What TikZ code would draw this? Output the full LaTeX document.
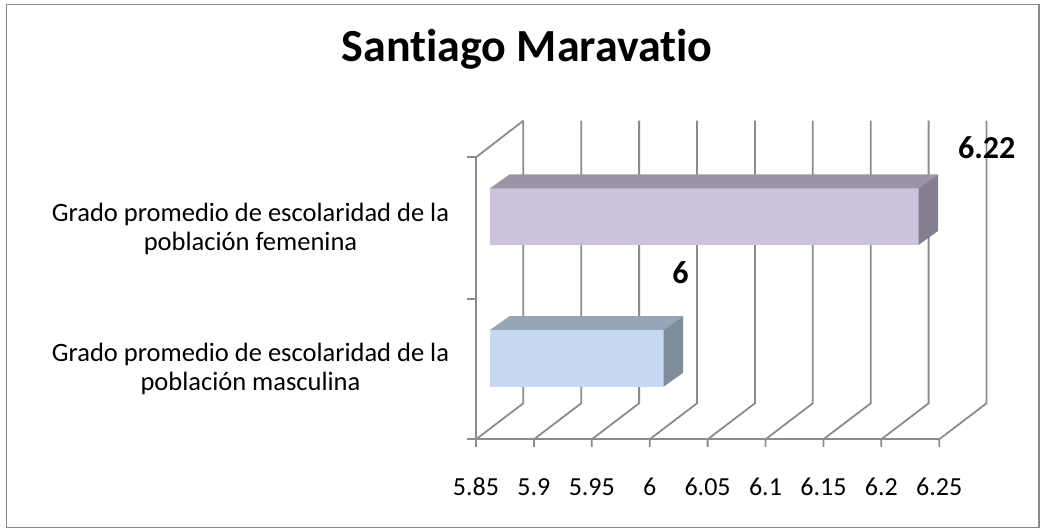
\documentclass[tikz,border=0pt]{standalone}
\usepackage{fontspec}
\setmainfont{Carlito}[Ligatures=NoCommon]
\begin{document}
\begin{tikzpicture}[x=1pt,y=-1pt,
  grid/.style={draw=gridgray,line width=1.8pt},
  ticklab/.style={anchor=base,font=\fontsize{26}{31}\selectfont},
  catlab/.style={anchor=base,font=\fontsize{26.5}{31}\selectfont},
  vallab/.style={anchor=base,font=\fontsize{32}{38}\selectfont\bfseries},
  ]
\definecolor{gridgray}{HTML}{8C8C8C}
\definecolor{framegray}{HTML}{888888}
\definecolor{femfront}{HTML}{CBC2DB}
\definecolor{femtop}{HTML}{9D93A7}
\definecolor{femside}{HTML}{857D90}
\definecolor{masfront}{HTML}{C6D9F1}
\definecolor{mastop}{HTML}{95A6B8}
\definecolor{masside}{HTML}{7F8C9C}
\useasboundingbox (0,0) rectangle (1045,529);
\fill[white] (0,0) rectangle (1045,529);
\draw[framegray,line width=1.6pt] (6.5,4.5) rectangle (1039,527.5);
% title
\node[anchor=base,font=\fontsize{46}{53}\selectfont\bfseries] (title) at (527,61.7) {Santiago Maravatio};
% floor and back wall lines
\foreach \i in {0,...,8}{
  \pgfmathsetmacro{\fx}{476+57.9*\i}
  \draw[grid] (\fx,447) -- (\fx,439.3) -- (\fx+47.3,403.3) -- (\fx+47.3,120.7);
}
\draw[grid] (467,439.3) -- (939.3,439.3);
% left wall
\draw[grid] (476,439.3) -- (476,157.3) -- (523.3,120.7);
\foreach \yy in {157.3,299,439.3}{
  \draw[grid] (467,\yy) -- (476,\yy);
}
% female bar
\fill[femfront] (490,188.3) rectangle (918.5,245);
\fill[femtop] (490,188.3) -- (509.5,174.5) -- (938,174.5) -- (918.5,188.3) -- cycle;
\fill[femside] (918.5,188.3) -- (938,174.5) -- (938,231) -- (918.5,245) -- cycle;
% male bar
\fill[masfront] (490,330) rectangle (663.7,386.7);
\fill[mastop] (490,330) -- (509.5,316.2) -- (683.2,316.2) -- (663.7,330) -- cycle;
\fill[masside] (663.7,330) -- (683.2,316.2) -- (683.2,372.7) -- (663.7,386.7) -- cycle;
% value labels
\node[vallab] (v1) at (986.7,158.3) {6.22};
\node[vallab] (v2) at (680.5,284) {6};
% category labels
\node[catlab] (f1) at (250.5,221.7) {Grado promedio de escolaridad de la};
\node[catlab] (f2) at (250.5,251) {población femenina};
\node[catlab] (m1) at (250.5,361.7) {Grado promedio de escolaridad de la};
\node[catlab] (m2) at (250.5,391) {población masculina};
% tick labels
\foreach \lab [count=\k from 0] in {5.85,5.9,5.95,6,6.05,6.1,6.15,6.2,6.25}{
  \pgfmathsetmacro{\fx}{476+57.9*\k}
  \node[ticklab] (t\k) at (\fx,495.4) {\lab};
}
\end{tikzpicture}
\end{document}
